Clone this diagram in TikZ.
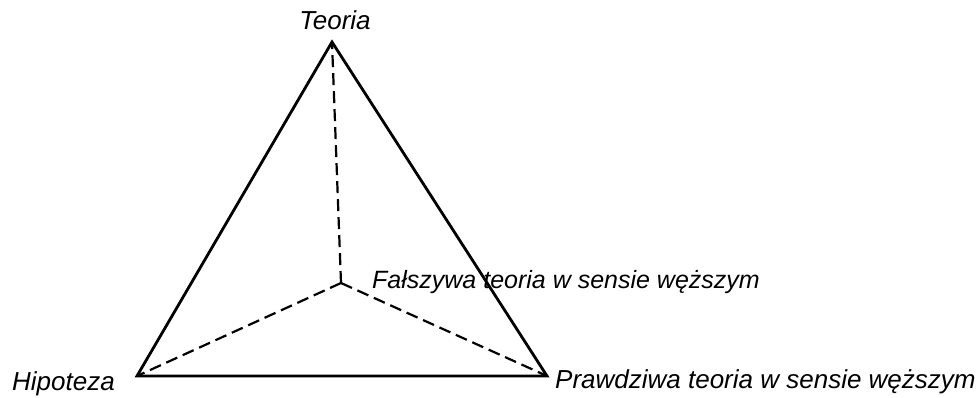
\documentclass[tikz,border=0pt]{standalone}
\usepackage{fontspec}
\setmainfont{Liberation Sans}
\usetikzlibrary{positioning}

\begin{document}
\begin{tikzpicture}[x=1pt,y=1pt,
      edge/.style={line width=2.8pt,line join=miter,line cap=round},
      hidden/.style={line width=2.2pt,dash pattern=on 12pt off 6pt},
      lbl/.style={font=\fontsize{26}{30}\selectfont\itshape,inner sep=0pt}]
    \useasboundingbox (0,0) rectangle (976,397);

    % vertices of the tetrahedron
    \coordinate (teoria) at (332,355);
    \coordinate (hip) at (137,21);
    \coordinate (prawda) at (547,21);
    \coordinate (falsz) at (341,114);

    \node[lbl,anchor=base] (tLbl) at (335,367) {Teoria};
    \node[lbl,anchor=base east] (hLbl) at (115,7) {Hipoteza};
    \node[lbl,anchor=base west] (pLbl) at (555,9) {Prawdziwa teoria w sensie węższym};
    \node[lbl,anchor=base west,font=\fontsize{25}{30}\selectfont\itshape] (fLbl) at (372,109) {Fałszywa teoria w sensie węższym};

    \draw[edge] (teoria) -- (hip) -- (prawda) -- cycle;
    \draw[hidden] (falsz) -- (teoria);
    \draw[hidden] (falsz) -- (hip);
    \draw[hidden] (falsz) -- (prawda);
  \end{tikzpicture}
\end{document}
